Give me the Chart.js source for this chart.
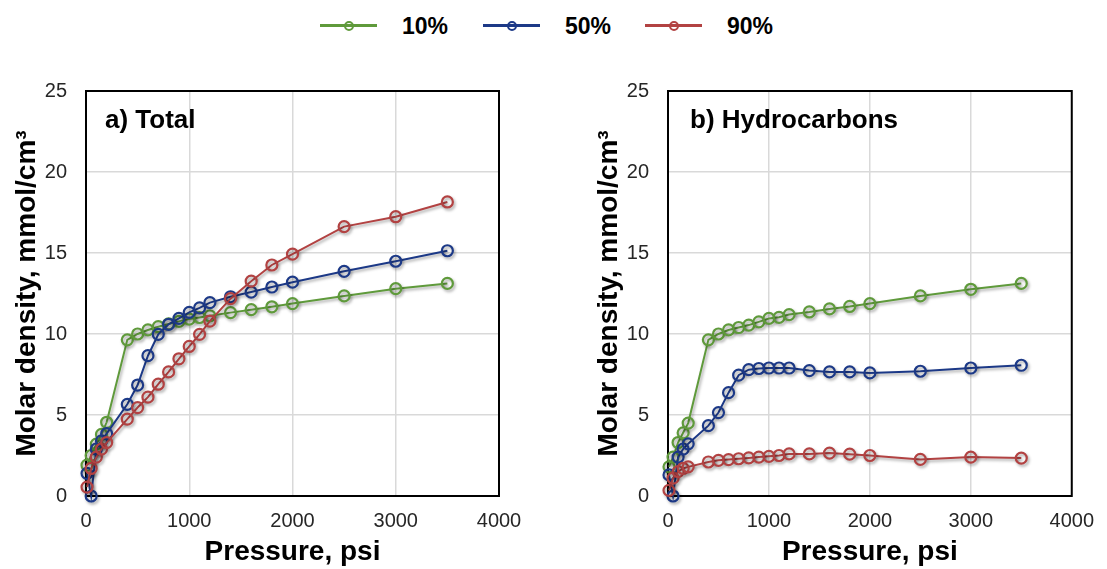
<!DOCTYPE html>
<html><head><meta charset="utf-8">
<script src="https://cdn.jsdelivr.net/npm/chart.js@4.4.1/dist/chart.umd.min.js"></script>
<style>
html,body{margin:0;padding:0;background:#fff;}
body{width:1107px;height:569px;position:relative;overflow:hidden;font-family:"Liberation Sans",Arial,sans-serif;}
.wrap{position:absolute;}
.lline{position:absolute;height:3px;}
.ldot{position:absolute;width:6px;height:6px;border:2px solid;border-radius:50%;background:transparent;}
.ltext{position:absolute;font-weight:bold;font-size:23px;line-height:26px;color:#000;}
</style></head><body>
<div id="legend"></div>
<div class="wrap" style="left:0;top:60px;width:540px;height:509px"><canvas id="ca"></canvas></div>
<div class="wrap" style="left:582px;top:60px;width:525px;height:509px"><canvas id="cb"></canvas></div>
<script>
// ---- data ----
const seriesNames = ['10%', '50%', '90%'];
const seriesColors = ['#5f9a3b', '#1c3987', '#b24242'];
const pressure = [10, 50, 100, 150, 200, 400, 500, 600, 700, 800, 900, 1000, 1100, 1200, 1400, 1600, 1800, 2000, 2500, 3000, 3500];
const xTicks = [0, 1000, 2000, 3000, 4000];
const yTicks = [0, 5, 10, 15, 20, 25];

const total10 = [1.9, 2.5, 3.2, 3.8, 4.55, 9.64, 10.0, 10.25, 10.45, 10.62, 10.78, 10.92, 11.02, 11.12, 11.32, 11.5, 11.68, 11.88, 12.35, 12.8, 13.12];
const total50 = [1.4, 0.0, 2.9, 3.4, 3.85, 5.66, 6.85, 8.66, 9.98, 10.6, 10.96, 11.33, 11.61, 11.94, 12.3, 12.59, 12.9, 13.2, 13.87, 14.49, 15.14];
const total90 = [0.55, 1.7, 2.4, 2.9, 3.3, 4.75, 5.46, 6.1, 6.9, 7.66, 8.47, 9.23, 9.98, 10.8, 12.18, 13.26, 14.26, 14.93, 16.63, 17.24, 18.15];

const hc10 = [1.8, 2.4, 3.3, 3.9, 4.5, 9.64, 10.0, 10.25, 10.4, 10.55, 10.75, 10.96, 11.03, 11.2, 11.36, 11.55, 11.7, 11.88, 12.35, 12.76, 13.12];
const hc50 = [1.3, 0.0, 2.4, 2.9, 3.22, 4.34, 5.15, 6.38, 7.46, 7.8, 7.87, 7.9, 7.9, 7.9, 7.74, 7.66, 7.66, 7.6, 7.7, 7.9, 8.07];
const hc90 = [0.35, 1.1, 1.5, 1.7, 1.8, 2.1, 2.2, 2.25, 2.3, 2.35, 2.4, 2.45, 2.5, 2.6, 2.6, 2.65, 2.58, 2.5, 2.26, 2.4, 2.34];

const xTitle = 'Pressure, psi';
const yTitle = 'Molar density, mmol/cm³';

// ---- legend (HTML) ----
const legendPos = [320, 483, 645];
const leg = document.getElementById('legend');
seriesNames.forEach((n, i) => {
  const x = legendPos[i];
  const l = document.createElement('div'); l.className = 'lline';
  l.style.cssText = `left:${x}px;top:24px;width:57px;background:${seriesColors[i]}`;
  const d = document.createElement('div'); d.className = 'ldot';
  d.style.cssText = `left:${x + 24}px;top:20.5px;border-color:${seriesColors[i]}`;
  const t = document.createElement('div'); t.className = 'ltext';
  t.style.cssText = `left:${x + 82}px;top:13px`;
  t.textContent = n;
  leg.appendChild(l); leg.appendChild(d); leg.appendChild(t);
});

// ---- plugins ----
const framePlugin = {
  id: 'frameShadow',
  beforeDatasetsDraw(chart) {
    const {ctx, chartArea: a} = chart;
    ctx.save();
    ctx.strokeStyle = '#000';
    ctx.lineWidth = 2;
    ctx.strokeRect(a.left, a.top, a.right - a.left, a.bottom - a.top);
    ctx.restore();
    ctx.save();
    ctx.shadowColor = 'rgba(0,0,0,0.35)';
    ctx.shadowBlur = 3;
    ctx.shadowOffsetX = 1.5;
    ctx.shadowOffsetY = 2;
  },
  afterDatasetsDraw(chart) { chart.ctx.restore(); }
};
const panelTitlePlugin = {
  id: 'panelTitle',
  afterDraw(chart, args, opts) {
    const {ctx, chartArea: a} = chart;
    ctx.save();
    ctx.font = 'bold 26px "Liberation Sans", Arial, sans-serif';
    ctx.fillStyle = '#000';
    ctx.textBaseline = 'alphabetic';
    ctx.textAlign = 'left';
    ctx.fillText(opts.text, a.left + opts.dx, a.top + 37);
    ctx.restore();
  }
};

const tickFont = {size: 20, family: '"Liberation Sans", Arial'};
const titleFont = {size: 28, weight: 'bold', family: '"Liberation Sans", Arial'};

function makeChart(id, title, dx, rightPad, sets) {
  const order = [3, 2, 1];
  new Chart(document.getElementById(id), {
    type: 'line',
    data: {
      datasets: sets.map((s, i) => ({
        label: seriesNames[i],
        data: pressure.map((p, j) => ({x: p, y: s[j]})),
        borderColor: seriesColors[i],
        backgroundColor: 'rgba(0,0,0,0)',
        borderWidth: 2,
        pointRadius: 5.5,
        pointBorderWidth: 2.2,
        pointBackgroundColor: 'rgba(0,0,0,0)',
        pointBorderColor: seriesColors[i],
        tension: 0,
        clip: false,
        order: order[i]
      }))
    },
    options: {
      responsive: true, maintainAspectRatio: false, animation: false, events: [],
      layout: {padding: {left: 0, right: rightPad, top: 27, bottom: 0}},
      plugins: {legend: {display: false}, tooltip: {enabled: false}, panelTitle: {text: title, dx: dx}},
      scales: {
        x: {
          type: 'linear', min: 0, max: 4000,
          afterBuildTicks(s) { s.ticks = xTicks.map(v => ({value: v})); },
          ticks: {font: tickFont, color: '#262626', padding: 13, maxRotation: 0, callback: v => String(v)},
          grid: {color: '#d9d9d9', lineWidth: 1.5, drawTicks: false},
          border: {display: false},
          title: {display: true, text: xTitle, color: '#000', font: titleFont, padding: {top: 0, bottom: 0}},
          afterFit(s) { s.height = 73; }
        },
        y: {
          min: 0, max: 25,
          afterBuildTicks(s) { s.ticks = yTicks.map(v => ({value: v})); },
          ticks: {font: tickFont, color: '#262626', padding: 19, callback: v => String(v)},
          grid: {color: '#d9d9d9', lineWidth: 1.5, drawTicks: false},
          border: {display: false},
          title: {display: true, text: yTitle, color: '#000', font: titleFont, padding: {top: 10, bottom: 0}},
          afterFit(s) { s.width = 86; }
        }
      }
    },
    plugins: [framePlugin, panelTitlePlugin]
  });
}

makeChart('ca', 'a) Total', 19, 41, [total10, total50, total90]);
makeChart('cb', 'b) Hydrocarbons', 22, 24, [hc10, hc50, hc90]);
</script>
</body></html>
